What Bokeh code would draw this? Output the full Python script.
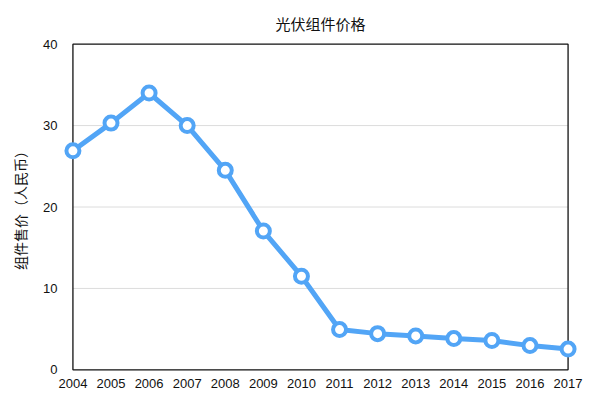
from bokeh.plotting import figure
from bokeh.models import Range1d, FixedTicker
from bokeh.embed import file_html
from bokeh.resources import INLINE

years = [2004, 2005, 2006, 2007, 2008, 2009, 2010, 2011, 2012, 2013, 2014, 2015, 2016, 2017]
prices = [26.9, 30.3, 34.0, 30.0, 24.5, 17.05, 11.5, 4.95, 4.45, 4.17, 3.84, 3.6, 2.98, 2.55]
y_ticks = [0, 10, 20, 30, 40]
grid_vals = [10, 20, 30]

title_text = "光伏组件价格"
y_label = "组件售价（人民币）"

BLUE = "#52A5F6"
CJK = "Noto Sans CJK SC"
LAT = "Liberation Sans"

pad_x = 0.3
pad_y = 0.2

p = figure(width=585, height=394, output_backend="svg", toolbar_location=None,
           x_range=Range1d(years[0] - pad_x, years[-1] + pad_x),
           y_range=Range1d(y_ticks[0] - pad_y, y_ticks[-1] + pad_y),
           min_border_left=61, min_border_right=6, min_border_top=42, min_border_bottom=23)

p.title.text = title_text
p.title.align = "center"
p.title.text_font = CJK
p.title.text_font_size = "15px"
p.title.text_font_style = "normal"
p.title.text_color = "#111111"
p.title.standoff = 18

p.outline_line_color = None
p.background_fill_color = "white"
p.border_fill_color = "white"

# axes
for ax in (p.xaxis[0], p.yaxis[0]):
    ax.axis_line_color = None
    ax.major_tick_line_color = None
    ax.minor_tick_line_color = None
    ax.major_tick_out = 0
    ax.major_tick_in = 0
    ax.major_label_text_font = LAT
    ax.major_label_text_font_size = "13px"
    ax.major_label_text_color = "#111111"

p.xaxis.ticker = FixedTicker(ticks=years)
p.xaxis.major_label_standoff = 7
p.yaxis.ticker = FixedTicker(ticks=y_ticks)
p.yaxis.major_label_standoff = 4
p.yaxis.axis_label = y_label
p.yaxis.axis_label_text_font = CJK
p.yaxis.axis_label_text_font_size = "14px"
p.yaxis.axis_label_text_font_style = "normal"
p.yaxis.axis_label_text_color = "#111111"
p.yaxis.axis_label_standoff = 10

p.xgrid.visible = False
p.ygrid.visible = False

# grid lines between first and last year
p.segment(x0=[years[0]] * len(grid_vals), x1=[years[-1]] * len(grid_vals),
          y0=grid_vals, y1=grid_vals, line_color="#dcdcdc", line_width=1)

# frame box
p.quad(left=[years[0]], right=[years[-1]], bottom=[y_ticks[0]], top=[y_ticks[-1]],
       fill_color=None, line_color="#111111", line_width=1.3)

p.line(years, prices, line_color=BLUE, line_width=5, line_join="round")
p.scatter(years, prices, size=13, fill_color="white", line_color=BLUE, line_width=4)

open("out.html", "w").write(file_html(p, INLINE))
